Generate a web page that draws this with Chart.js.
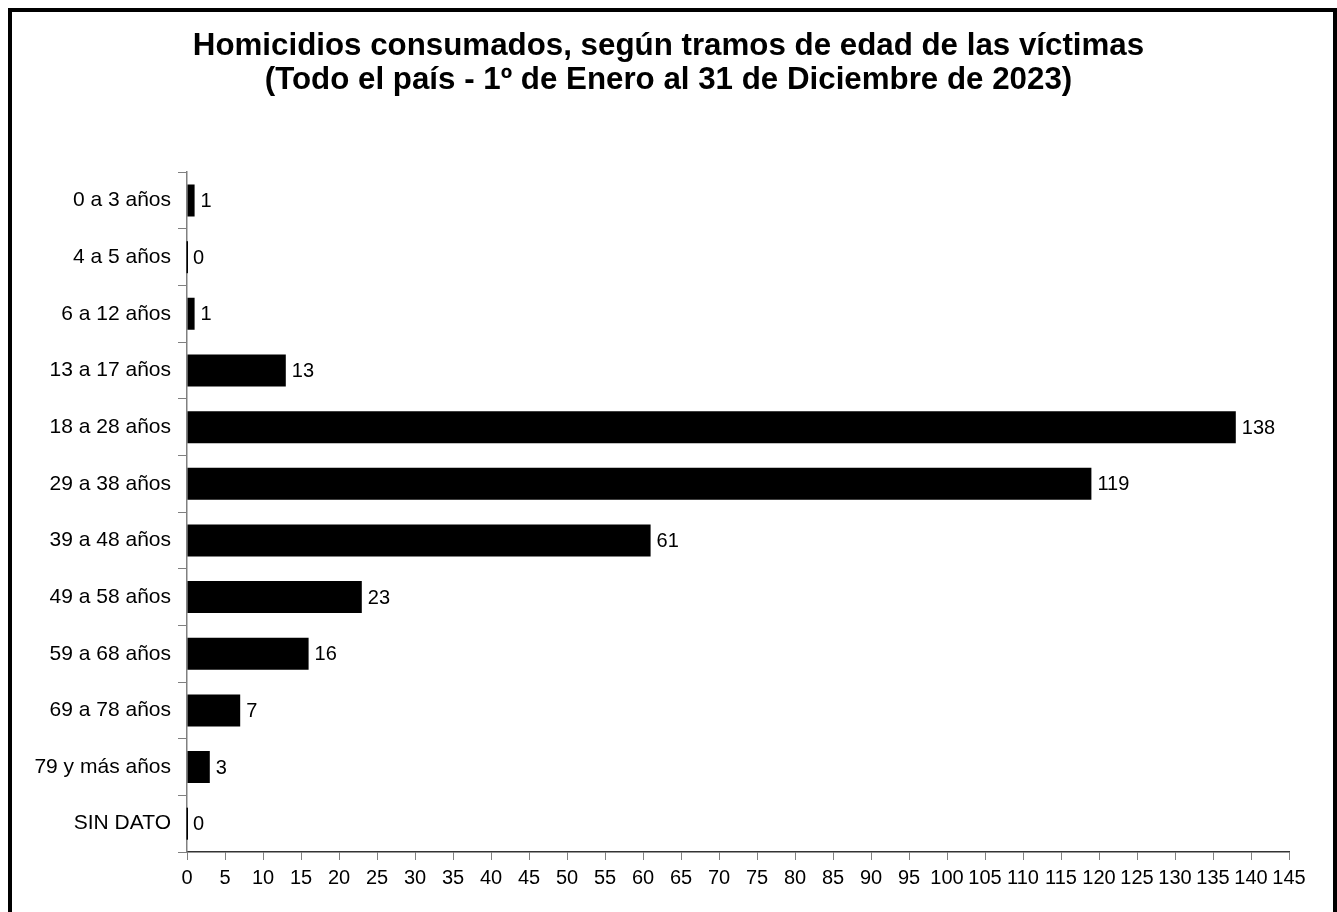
<!DOCTYPE html>
<html>
<head>
<meta charset="utf-8">
<script src="https://cdn.jsdelivr.net/npm/chart.js@4"></script>
<style>
  html, body { margin: 0; padding: 0; background: #fff; overflow: hidden; }
  #wrap { position: relative; width: 1337px; height: 912px; }
  #frame { position: absolute; left: 8px; top: 8px; width: 1329px; height: 1000px;
           border: 4px solid #000; box-sizing: border-box; }
  canvas { position: absolute; left: 0; top: 0; }
</style>
</head>
<body>
<div id="wrap">
  <div id="frame"></div>
  <canvas id="chart" width="1337" height="912"></canvas>
</div>
<script>
// age groups of the victims
var categories = ["0 a 3 años", "4 a 5 años", "6 a 12 años", "13 a 17 años", "18 a 28 años", "29 a 38 años",
  "39 a 48 años", "49 a 58 años", "59 a 68 años", "69 a 78 años", "79 y más años", "SIN DATO"];
// number of homicides
var values = [1, 0, 1, 13, 138, 119, 61, 23, 16, 7, 3, 0];
var titleLines = ["Homicidios consumados, según tramos de edad de las víctimas",
  "(Todo el país - 1º de Enero al 31 de Diciembre de 2023)"];

var fontFamily = "'Liberation Sans', Arial, sans-serif";

// value next to each bar + thin line for the zero bars
var barLabels = {
  id: "barLabels",
  afterLayout: function(chart) {
    // centre the title on the whole page, not on the padded area
    if (chart.titleBlock) {
      chart.titleBlock.left = 0;
      chart.titleBlock.right = chart.width;
      chart.titleBlock.width = chart.width;
    }
  },
  afterDatasetsDraw: function(chart) {
    var ctx = chart.ctx;
    var meta = chart.getDatasetMeta(0);
    ctx.save();
    ctx.font = "20px " + fontFamily;
    ctx.fillStyle = "#000";
    ctx.textAlign = "left";
    ctx.textBaseline = "middle";
    meta.data.forEach(function(bar, i) {
      if (values[i] === 0) {
        ctx.fillRect(bar.base - 0.5, bar.y - bar.height / 2, 1.5, bar.height);
      }
      ctx.fillText(String(values[i]), bar.x + 6, bar.y + 1);
    });
    ctx.restore();
  }
};

new Chart(document.getElementById("chart"), {
  type: "bar",
  data: {
    labels: categories,
    datasets: [{
      data: values,
      backgroundColor: "#000",
      borderWidth: 0,
      categoryPercentage: 1,
      barPercentage: 0.565
    }]
  },
  options: {
    indexAxis: "y",
    responsive: false,
    animation: false,
    layout: { padding: { left: 12, right: 48, top: 17, bottom: 20 } },
    plugins: {
      legend: { display: false },
      tooltip: { enabled: false },
      title: {
        display: true,
        text: titleLines,
        color: "#000",
        font: { family: fontFamily, size: 31.3, weight: "bold", lineHeight: 1.09 },
        padding: { top: 12, bottom: 75 }
      }
    },
    scales: {
      x: {
        min: 0,
        max: 145,
        ticks: { stepSize: 5, color: "#000", font: { family: fontFamily, size: 20 }, padding: 6, maxRotation: 0, autoSkip: false },
        grid: { drawOnChartArea: false, drawTicks: true, tickLength: 8, color: "#808080" },
        border: { color: "#333", width: 1.5 },
        afterFit: function(s) { s.height = 40; }
      },
      y: {
        offset: true,
        ticks: { color: "#000", font: { family: fontFamily, size: 21 }, padding: 7 },
        grid: { offset: true, drawOnChartArea: false, tickLength: 9, color: "#808080" },
        border: { color: "#808080", width: 1.5 },
        afterFit: function(s) { s.width = 175; }
      }
    }
  },
  plugins: [barLabels]
});
</script>
</body>
</html>
